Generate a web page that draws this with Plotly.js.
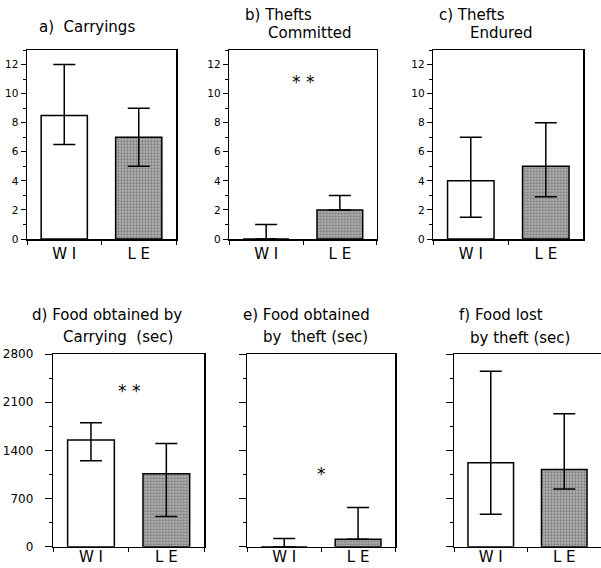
<!DOCTYPE html>
<html>
<head>
<meta charset="utf-8">
<script src="https://cdn.plot.ly/plotly-3.0.1.min.js"></script>
<style>html,body{margin:0;padding:0;background:#fff;}#chart{width:601px;height:568px;}</style>
</head>
<body>
<div id="chart"></div>
<script>
// ---- data ----
var categories = ['W I', 'L E'];

var carryMean = [8.5, 7.0];
var carryUpper = [12, 9];
var carryLower = [6.5, 5];

var theftsCommittedMean = [0, 2];
var theftsCommittedUpper = [1, 3];
var theftsCommittedLower = [0, 2];

var theftsEnduredMean = [4, 5];
var theftsEnduredUpper = [7, 8];
var theftsEnduredLower = [1.5, 2.9];

var foodCarryMean = [1550, 1060];
var foodCarryUpper = [1800, 1500];
var foodCarryLower = [1250, 440];

var foodTheftMean = [0, 110];
var foodTheftUpper = [120, 570];
var foodTheftLower = [0, 110];

var foodLostMean = [1220, 1120];
var foodLostUpper = [2550, 1930];
var foodLostLower = [470, 840];

var countTicks = [0, 2, 4, 6, 8, 10, 12];
var secTicks = [0, 700, 1400, 2100, 2800];

// ---- build ----
var FONT = 'DejaVu Sans, Verdana, sans-serif';
function diff(a, b) { return a.map(function (v, i) { return v - b[i]; }); }

function barTrace(mean, upper, lower, xa, ya) {
  return {
    type: 'bar', x: categories, y: mean, xaxis: xa, yaxis: ya,
    width: 0.62, showlegend: false, hoverinfo: 'skip',
    marker: {
      color: ['#ffffff', '#b4b4b4'],
      line: {color: '#000', width: 1.5},
      pattern: {shape: ['', '.'], size: 3, solidity: 0.45, fgcolor: '#444', bgcolor: '#d0d0d0', fillmode: 'overlay'}
    },
    error_y: {type: 'data', symmetric: false, array: diff(upper, mean), arrayminus: diff(mean, lower),
      color: '#000', thickness: 1.5, width: 11}
  };
}

var data = [
  barTrace(carryMean, carryUpper, carryLower, 'x', 'y'),
  barTrace(theftsCommittedMean, theftsCommittedUpper, theftsCommittedLower, 'x2', 'y2'),
  barTrace(theftsEnduredMean, theftsEnduredUpper, theftsEnduredLower, 'x3', 'y3'),
  barTrace(foodCarryMean, foodCarryUpper, foodCarryLower, 'x4', 'y4'),
  barTrace(foodTheftMean, foodTheftUpper, foodTheftLower, 'x5', 'y5'),
  barTrace(foodLostMean, foodLostUpper, foodLostLower, 'x6', 'y6')
];

function px(v) { return v / 601; }
function py(v) { return 1 - v / 568; }

function xAxis(d0, d1, anchor, standoff) {
  return {
    domain: [px(d0), px(d1)], anchor: anchor, type: 'category', range: [-0.5, 1.5],
    showline: true, mirror: true, linecolor: '#000', linewidth: 1.5,
    ticks: 'outside', tickson: 'boundaries', ticklen: 4, tickwidth: 1, tickcolor: '#000',
    ticklabelstandoff: standoff,
    showgrid: false, zeroline: false, fixedrange: true,
    tickfont: {family: FONT, size: 15, color: '#000'}
  };
}
function yAxisTop(anchor) {
  return {
    domain: [py(239), py(50)], anchor: anchor, range: [0, 13],
    showline: true, mirror: true, linecolor: '#000', linewidth: 1.5,
    tickvals: countTicks, ticktext: countTicks.map(String),
    ticks: 'outside', ticklen: 5, tickwidth: 1, tickcolor: '#000',
    minor: {dtick: 1, tick0: 0, ticks: 'outside', ticklen: 3, tickcolor: '#000', tickwidth: 1},
    showgrid: false, zeroline: false, fixedrange: true,
    tickfont: {family: FONT, size: 10.5, color: '#000'}
  };
}
function yAxisBottom(anchor, labels, mirror) {
  return {
    domain: [py(546.7), py(354)], anchor: anchor, range: [0, 2800],
    showline: true, mirror: mirror, linecolor: '#000', linewidth: 1.5,
    tickvals: secTicks, ticktext: secTicks.map(String), showticklabels: labels,
    ticks: 'outside', ticklen: 7, tickwidth: 1, tickcolor: '#000', ticklabelstandoff: 9,
    minor: {dtick: 350, tick0: 0, ticks: 'outside', ticklen: 3, tickcolor: '#000', tickwidth: 1},
    showgrid: false, zeroline: false, fixedrange: true,
    tickfont: {family: FONT, size: 12, color: '#000'}
  };
}

function txt(text, x, y, size) {
  return {xref: 'paper', yref: 'paper', x: px(x), y: py(y), xanchor: 'left', yanchor: 'middle',
    text: text, showarrow: false, font: {family: FONT, size: size || 15, color: '#000'}};
}
function star(text, xa, ya, y) {
  return {xref: xa, yref: ya, x: 0.5, y: y, text: text, showarrow: false,
    xanchor: 'center', yanchor: 'middle', font: {family: FONT, size: 17, color: '#000'}};
}

var layout = {
  width: 601, height: 568, margin: {l: 0, r: 0, t: 0, b: 0},
  paper_bgcolor: '#fff', plot_bgcolor: '#fff', showlegend: false,
  font: {family: FONT, color: '#000'},
  xaxis: xAxis(27, 176, 'y', 0),
  xaxis2: xAxis(229.3, 376.7, 'y2', 0),
  xaxis3: xAxis(433.3, 583.3, 'y3', 0),
  xaxis4: xAxis(53.3, 204, 'y4', -4),
  xaxis5: xAxis(247.3, 395, 'y5', -4),
  xaxis6: xAxis(454, 601, 'y6', -4),
  yaxis: yAxisTop('x'),
  yaxis2: yAxisTop('x2'),
  yaxis3: yAxisTop('x3'),
  yaxis4: yAxisBottom('x4', true, true),
  yaxis5: yAxisBottom('x5', false, true),
  yaxis6: yAxisBottom('x6', false, false),
  annotations: [
    txt('a)  Carryings', 37, 27),
    txt('b) Thefts', 243, 15),
    txt('Committed', 266, 33),
    txt('c) Thefts', 437, 15),
    txt('Endured', 468, 33),
    txt('d) Food obtained by', 30, 315),
    txt('Carrying  (sec)', 61, 337),
    txt('e) Food obtained', 241, 315),
    txt('by  theft (sec)', 261, 337),
    txt('f) Food lost', 457, 315),
    txt('by theft (sec)', 468, 338),
    star('* *', 'x2', 'y2', 10.8),
    star('* *', 'x4', 'y4', 2260),
    star('*', 'x5', 'y5', 1060)
  ]
};

Plotly.newPlot('chart', data, layout, {staticPlot: true, displayModeBar: false});
</script>
</body>
</html>
